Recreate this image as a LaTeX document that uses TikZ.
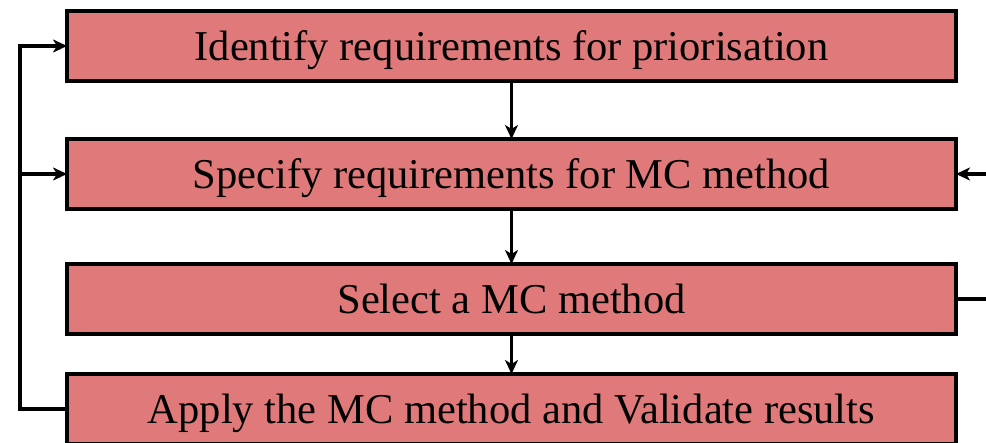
\documentclass[tikz,border=0pt]{standalone}
\usepackage{fontspec}
\setmainfont{Liberation Serif}
\usetikzlibrary{arrows.meta}
\definecolor{boxred}{RGB}{224,122,122}
\begin{document}
\begin{tikzpicture}[x=1pt,y=-1pt,
  stepbox/.style={draw=black,fill=boxred,line width=3.6pt,rectangle,
    minimum width=889pt,minimum height=70pt,inner sep=0pt,outer sep=0pt,
    text height=28.5pt,text depth=0pt,
    font=\fontsize{42.5}{46}\selectfont},
  conn/.style={line width=3.2pt,-{Stealth[length=14pt,width=13pt,inset=4pt]}},
  plain/.style={line width=3.2pt}]
\useasboundingbox (0,0) rectangle (986,443);
\node[stepbox] (b1) at (511.5,46) {Identify requirements for priorisation};
\node[stepbox] (b2) at (511.5,174) {Specify requirements for MC method};
\node[stepbox] (b3) at (511.5,299) {Select a MC method};
\node[stepbox] (b4) at (511.5,409) {Apply the MC method and Validate results};
\draw[conn] (b1) -- (b2);
\draw[conn] (b2) -- (b3);
\draw[conn] (b3) -- (b4);
\coordinate (lb) at (20,409);
\coordinate (lt) at (20,46);
\coordinate (lm) at (20,174);
\draw[conn] (b4.west) -- (lb) -- (lt) -- (b1.west);
\draw[conn] (lm) -- (b2.west);
\coordinate (r2) at (990,174);
\coordinate (r3) at (990,299);
\draw[conn] (r2) -- (b2.east);
\draw[plain] (b3.east) -- (r3);
\end{tikzpicture}
\end{document}
